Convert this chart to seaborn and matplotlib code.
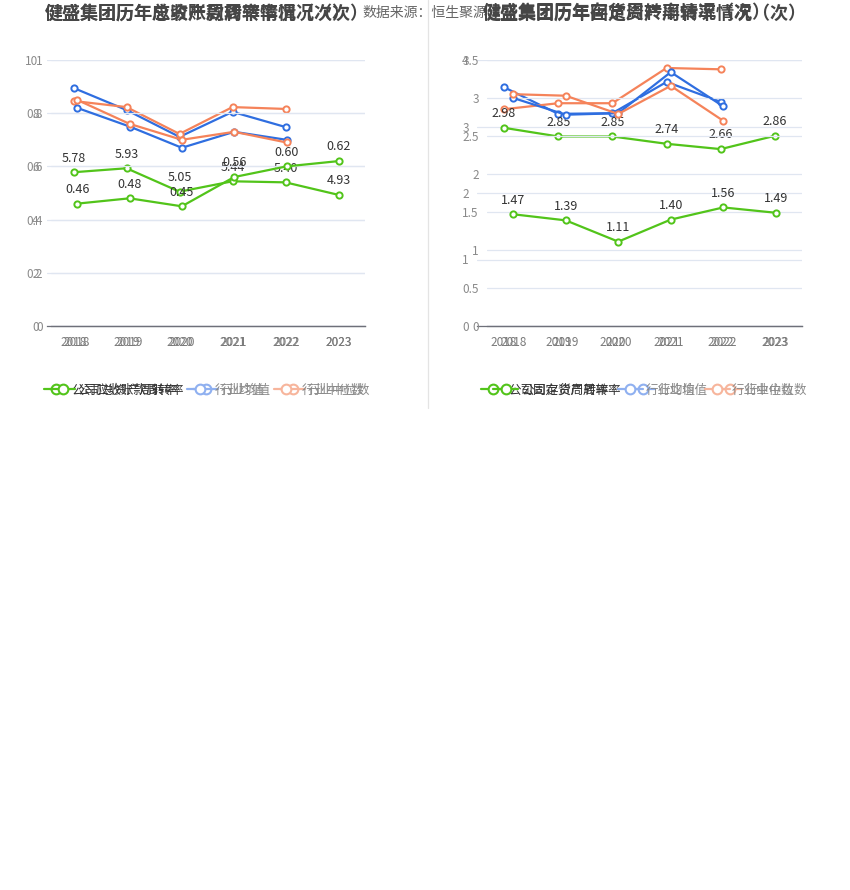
import numpy as np
import pandas as pd
import matplotlib
matplotlib.use("Agg")
import matplotlib.pyplot as plt
import seaborn as sns
from matplotlib.lines import Line2D

sns.set_style("white")
plt.rcParams['font.family'] = ['Noto Sans CJK SC', 'DejaVu Sans']

# data
years = ['2018', '2019', '2020', '2021', '2022', '2023']
ind_years = ['2018', '2019', '2020', '2021', '2022']

# left panel: receivables turnover (0-10 axis) and total asset turnover (0-1 axis)
recv_company = [5.78, 5.93, 5.05, 5.44, 5.40, 4.93]
recv_mean = [8.95, 8.12, 7.11, 8.05, 7.48]
recv_median = [8.46, 8.23, 7.22, 8.23, 8.16]

asset_company = [0.46, 0.48, 0.45, 0.56, 0.60, 0.62]
asset_mean = [0.82, 0.75, 0.67, 0.73, 0.70]
asset_median = [0.85, 0.76, 0.70, 0.73, 0.69]

# right panel: fixed asset turnover (0-4 axis) and inventory turnover (0-3.5 axis)
fixed_company = [2.98, 2.85, 2.85, 2.74, 2.66, 2.86]
fixed_mean = [3.59, 3.19, 3.20, 3.67, 3.37]
fixed_median = [3.26, 3.35, 3.35, 3.88, 3.86]

inv_company = [1.47, 1.39, 1.11, 1.40, 1.56, 1.49]
inv_mean = [3.00, 2.78, 2.80, 3.34, 2.89]
inv_median = [3.05, 3.03, 2.79, 3.16, 2.70]

W, H = 850, 890
GREEN = '#52c41a'
BLUE = '#2f6ee0'
ORANGE = '#f5835a'
GRID = '#e0e6f1'
AXIS = '#6e7079'

fig = plt.figure(figsize=(W / 100, H / 100), dpi=100)
fig.patch.set_facecolor('white')


def px_axes(left, right, top, bottom):
    return fig.add_axes([left / W, 1 - bottom / H, (right - left) / W, (bottom - top) / H])


def draw_chart(ax, company, mean, median, ymax, ystep):
    ax.set_facecolor('none')
    df = pd.DataFrame({'year': years, 'v': company})
    dm = pd.DataFrame({'year': ind_years, 'mean': mean, 'median': median})
    sns.lineplot(data=df, x='year', y='v', ax=ax, color=GREEN, marker='o', markersize=4.5,
                 markerfacecolor='white', markeredgecolor=GREEN, markeredgewidth=1.4,
                 linewidth=1.6, zorder=5)
    sns.lineplot(data=dm, x='year', y='mean', ax=ax, color=BLUE, marker='o', markersize=4.5,
                 markerfacecolor='white', markeredgecolor=BLUE, markeredgewidth=1.4,
                 linewidth=1.6, zorder=4)
    sns.lineplot(data=dm, x='year', y='median', ax=ax, color=ORANGE, marker='o', markersize=4.5,
                 markerfacecolor='white', markeredgecolor=ORANGE, markeredgewidth=1.4,
                 linewidth=1.6, zorder=4)
    for i, v in enumerate(company):
        ax.annotate(f'{v:.2f}', (i, v), xytext=(0, 5.5), textcoords='offset points',
                    ha='center', va='bottom', fontsize=9, color='#333333', zorder=6)
    ax.set_xlim(-0.5, len(years) - 0.5)
    ax.set_ylim(0, ymax)
    ticks = np.arange(0, ymax + 1e-9, ystep)
    ax.set_yticks(ticks)
    ax.set_yticklabels([f'{t:g}' for t in ticks])
    ax.set_xlabel('')
    ax.set_ylabel('')
    ax.grid(axis='y', color=GRID, linewidth=0.9)
    ax.set_axisbelow(True)
    for s in ['top', 'right', 'left']:
        ax.spines[s].set_visible(False)
    ax.spines['bottom'].set_color(AXIS)
    ax.spines['bottom'].set_linewidth(0.9)
    ax.tick_params(axis='y', length=0, pad=6, labelsize=8.5, labelcolor='#8a8a8a')
    ax.tick_params(axis='x', length=4, width=0.9, color=AXIS, pad=3, labelsize=8.5,
                   labelcolor='#7a7a7a')


axA = px_axes(47, 365, 60, 326)
draw_chart(axA, recv_company, recv_mean, recv_median, 10, 2)
axB = px_axes(51, 365, 60, 326)
draw_chart(axB, asset_company, asset_mean, asset_median, 1, 0.2)

axD = px_axes(477, 802, 60, 326)
draw_chart(axD, fixed_company, fixed_mean, fixed_median, 4, 1)
axC = px_axes(487, 802, 60, 326)
draw_chart(axC, inv_company, inv_mean, inv_median, 3.5, 0.5)

# titles (source text first, right title drawn over it)
fig.text(362 / W, 1 - 13 / H, '数据来源：恒生聚源', ha='left', va='center', fontsize=10,
         color='#666666')
title_kw = dict(ha='left', va='center', fontsize=13, fontweight='bold', color='#464646',
                bbox=None)
fig.text(45 / W, 1 - 13 / H, '健盛集团历年应收账款周转率情况（次）', **title_kw)
fig.text(45 / W, 1 - 13 / H, '健盛集团历年总资产周转率情况（次）', **title_kw)
fig.text(483 / W, 1 - 13 / H, '健盛集团历年固定资产周转率情况（次）', **title_kw)
fig.text(483 / W, 1 - 13 / H, '健盛集团历年存货周转率情况（次）', **title_kw)

# separator
fig.add_artist(Line2D([428 / W, 428 / W], [1, 1 - 408 / H], color='#e4e4e4', linewidth=0.9))


# legends
def make_legend(company_label, cx):
    handles = [
        Line2D([0], [0], color=GREEN, marker='o', markersize=7, markerfacecolor='white',
               markeredgecolor=GREEN, markeredgewidth=1.5, linewidth=1.6),
        Line2D([0], [0], color='#8fb0f0', marker='o', markersize=7, markerfacecolor='white',
               markeredgecolor='#8fb0f0', markeredgewidth=1.5, linewidth=1.6),
        Line2D([0], [0], color='#f7b59c', marker='o', markersize=7, markerfacecolor='white',
               markeredgecolor='#f7b59c', markeredgewidth=1.5, linewidth=1.6),
    ]
    leg = fig.legend(handles, [company_label, '行业均值', '行业中位数'], loc='center',
                     bbox_to_anchor=(cx / W, 1 - 390 / H), ncol=3, frameon=False,
                     fontsize=9, handlelength=2.0, handletextpad=0.2, columnspacing=0.75)
    cols = ['#333333', '#8a8a8a', '#8a8a8a']
    for t, c in zip(leg.get_texts(), cols):
        t.set_color(c)
    return leg


make_legend('公司应收账款周转率', 207)
make_legend('公司总资产周转率', 207)
make_legend('公司固定资产周转率', 644)
make_legend('公司存货周转率', 644)

fig.savefig('out.png', dpi=100, facecolor='white')
